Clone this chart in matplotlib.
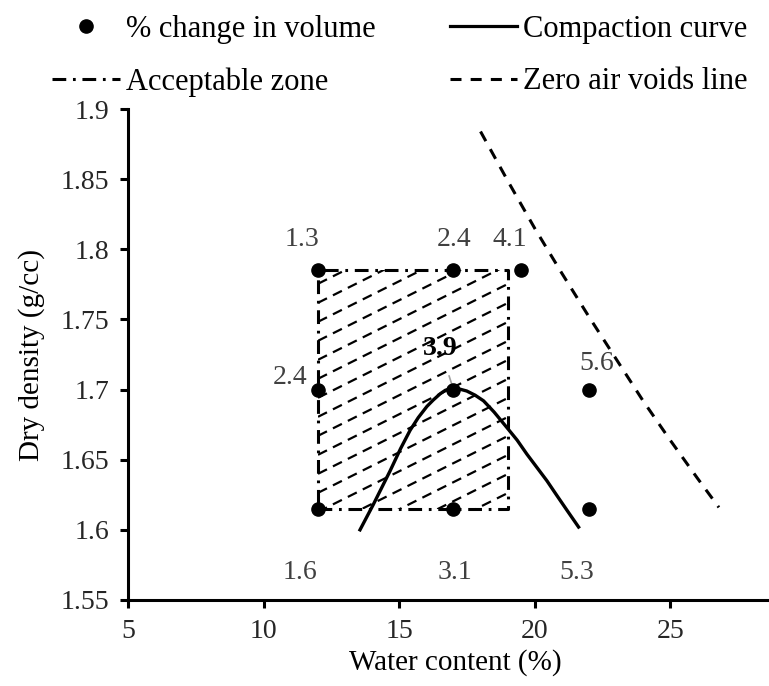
import numpy as np
import matplotlib.pyplot as plt
from matplotlib.patches import Rectangle
from matplotlib.lines import Line2D

plt.rcParams["font.family"] = ["Liberation Serif", "DejaVu Serif"]
plt.rcParams["font.size"] = 20

# % change in volume points
pt_w = [12, 17, 19.5, 12, 17, 22, 12, 17, 22]
pt_rho = [1.785, 1.785, 1.785, 1.70, 1.70, 1.70, 1.615, 1.615, 1.615]
pt_lab = ["1.3", "2.4", "4.1", "2.4", "3.9", "5.6", "1.6", "3.1", "5.3"]

cc_w = [13.55, 14.04, 14.66, 15.05, 15.40, 15.70, 16.02, 16.25, 16.51, 16.70, 16.94, 17.20,
        17.49, 17.80, 18.11, 18.50, 18.97, 19.35, 19.71, 20.10, 20.45, 20.80, 21.19, 21.62]
cc_rho = [1.600, 1.618, 1.642, 1.658, 1.671, 1.680, 1.688, 1.6925, 1.697, 1.6995, 1.701, 1.7005,
          1.699, 1.696, 1.692, 1.684, 1.673, 1.664, 1.654, 1.644, 1.635, 1.625, 1.614, 1.602]

zav_w = [18, 19, 20, 21, 22, 23, 24, 25, 26, 26.8]
zav_rho = [1.884, 1.849, 1.815, 1.783, 1.752, 1.722, 1.692, 1.664, 1.637, 1.616]

# acceptable zone
zone_w = [12, 19]
zone_rho = [1.615, 1.785]

fig = plt.figure(figsize=(7.69, 6.86), dpi=100)
ax = fig.add_axes([0.167, 0.1254, 0.833, 0.7156])

# hatch of the acceptable zone (dashed diagonals clipped to the box)
rect = Rectangle((zone_w[0], zone_rho[0]), zone_w[1] - zone_w[0], zone_rho[1] - zone_rho[0],
                 facecolor="none", edgecolor="none")
ax.add_patch(rect)
slope = 0.00965
for y0 in np.arange(zone_rho[1] + 0.004, zone_rho[0] - slope * 8, -0.01355):
    xs = np.array(zone_w)
    hl, = ax.plot(xs, y0 + slope * (xs - zone_w[0]), color="k", lw=1.6,
                  linestyle=(0, (4.5, 3)))
    hl.set_clip_path(rect)

zone_style = (0, (4.5, 2.2, 0.9, 2.2))
zx = [zone_w[0], zone_w[1], zone_w[1], zone_w[0], zone_w[0]]
zy = [zone_rho[0], zone_rho[0], zone_rho[1], zone_rho[1], zone_rho[0]]
ax.plot(zx, zy, color="k", lw=2.2, linestyle=zone_style)

ax.plot(zav_w, zav_rho, color="k", lw=2.2, linestyle=(0, (3.6, 3)))
ax.plot(cc_w, cc_rho, color="k", lw=2.4, solid_joinstyle="round")
ax.plot(pt_w, pt_rho, "o", color="k", ms=9.5, zorder=5)

offsets = [(-16, 31), (1, 31), (-11, 31), (-28, 12), (-13, 41), (8, 26),
           (-18, -64), (1, -64), (-12, -64)]
for i in range(len(pt_w)):
    if pt_lab[i] == "3.9":
        ax.annotate(pt_lab[i], (pt_w[i], pt_rho[i]), xytext=offsets[i], textcoords="offset pixels",
                    ha="center", va="center", fontweight="bold", color="k",
                    arrowprops=dict(arrowstyle="-", color="#a0a0a0", lw=1.2, shrinkA=9, shrinkB=2))
    else:
        ax.annotate(pt_lab[i], (pt_w[i], pt_rho[i]), xytext=offsets[i], textcoords="offset pixels",
                    ha="center", va="center", color="#404040")

ax.set_xlim(5, 28.65)
ax.set_ylim(1.55, 1.9)
ax.set_xticks([5, 10, 15, 20, 25])
ax.set_yticks([1.55, 1.6, 1.65, 1.7, 1.75, 1.8, 1.85, 1.9])
ax.set_yticklabels(["1.55", "1.6", "1.65", "1.7", "1.75", "1.8", "1.85", "1.9"])
ax.spines["top"].set_visible(False)
ax.spines["right"].set_visible(False)
ax.spines["left"].set_linewidth(2.2)
ax.spines["bottom"].set_linewidth(2.2)
ax.tick_params(direction="out", length=6, width=2.2, colors="k", labelcolor="#262626", pad=8)
ax.set_xlabel("Water content (%)", fontsize=21)
ax.xaxis.set_label_coords(0.51, -0.1)
ax.set_ylabel("Dry density (g/cc)", fontsize=21)
ax.yaxis.set_label_coords(-0.13, 0.5)

handles = [Line2D([], [], marker="o", ls="none", color="k", ms=9.5),
           Line2D([], [], color="k", lw=2.2, linestyle=zone_style),
           Line2D([], [], color="k", lw=2.3),
           Line2D([], [], color="k", lw=2.2, linestyle=(0, (3.6, 3)))]
labels = ["% change in volume", "Acceptable zone", "Compaction curve", "Zero air voids line"]
fig.legend(handles, labels, ncol=2, frameon=False, loc="upper left", fontsize=22,
           bbox_to_anchor=(0.068, 0.978), borderaxespad=0, borderpad=0,
           handlelength=2.2, handletextpad=0.2, columnspacing=2.45, labelspacing=0.76)

fig.savefig("out.png", dpi=100)
